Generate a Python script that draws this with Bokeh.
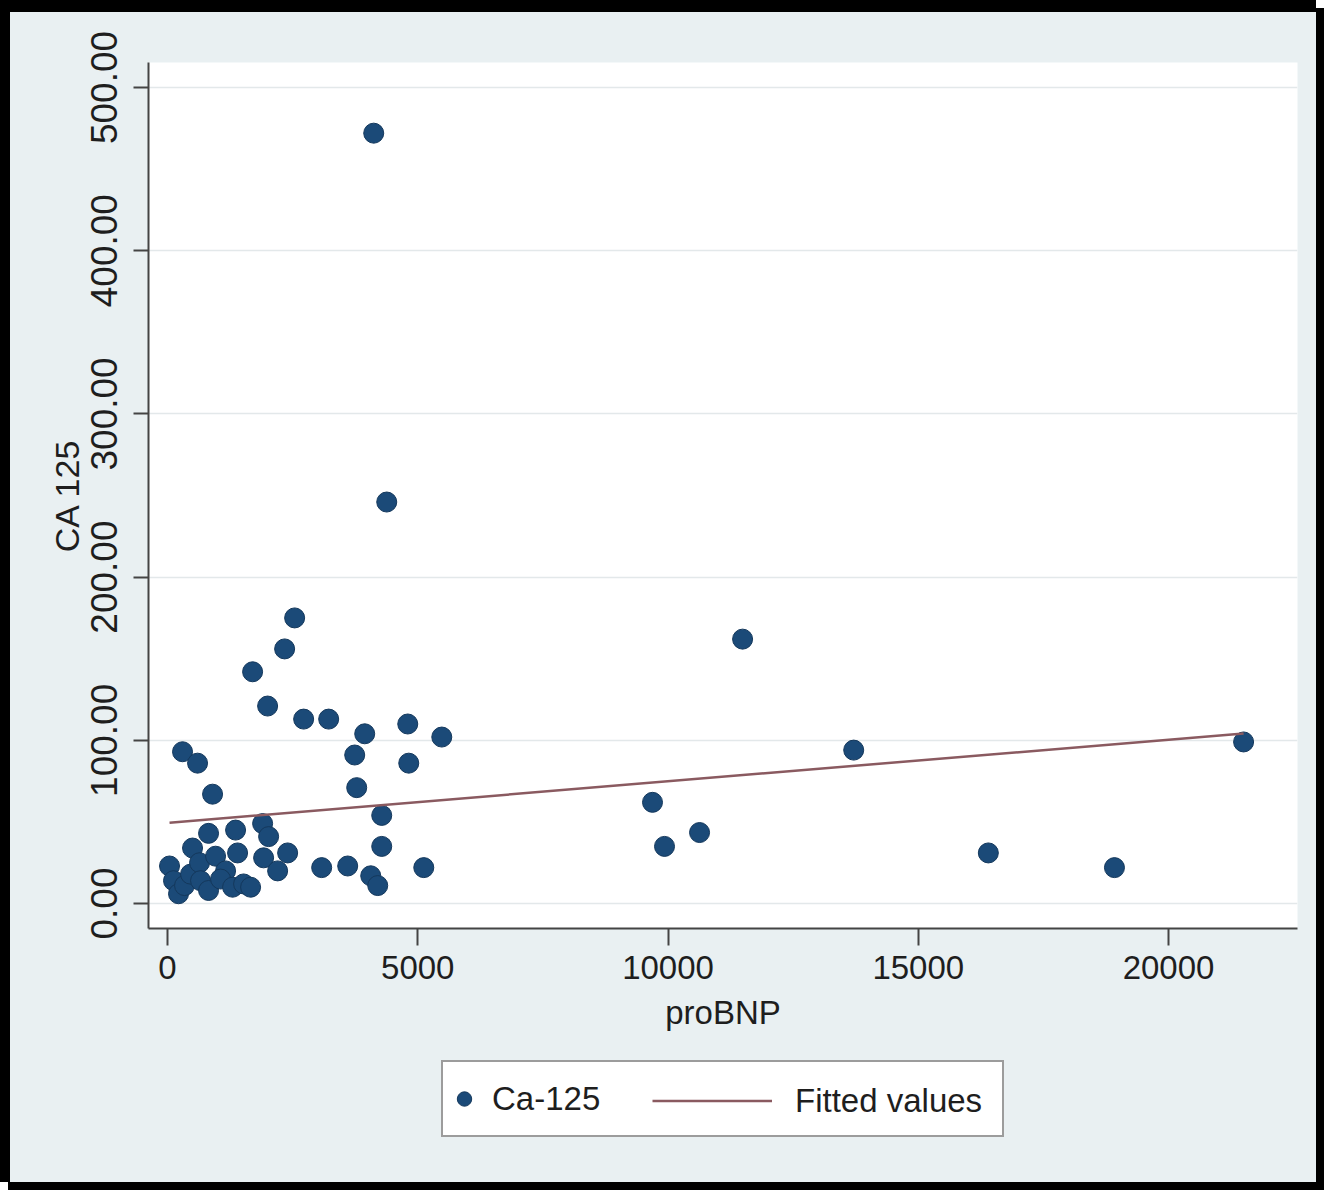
from bokeh.plotting import figure
from bokeh.layouts import column
from bokeh.models import Range1d, FixedTicker, NumeralTickFormatter, Legend, LegendItem
from bokeh.embed import file_html
from bokeh.resources import INLINE

# ---- data ----
probnp = [4120, 4380, 2540, 2340, 1700, 2000, 2720, 3220, 3940, 4800, 5480,
          3740, 4820, 3780, 4280, 4280, 3080, 3600, 4060, 4200, 5120,
          300, 600, 900,
          9690, 9930, 10630, 11490, 13710, 16400, 18920, 21500,
          40, 120, 220, 340, 460, 500, 640, 660, 820, 960, 820, 1160, 1060,
          1300, 1360, 1400, 1520, 1660, 1900, 2020, 1920, 2200, 2400]
ca125 = [472, 246, 175, 156, 142, 121, 113, 113, 104, 110, 102,
         91, 86, 71, 54, 35, 22, 23, 17, 11, 22,
         93, 86, 67,
         62, 35, 43.5, 162, 94, 31, 22, 99,
         23, 14, 6, 11, 18, 34, 25, 14, 43, 29, 8, 20, 15,
         10, 45, 31, 12, 10, 49, 41, 28, 20, 31]
fit_x = [40, 21500]
fit_y = [49.5, 104.2]
x_ticks = [0, 5000, 10000, 15000, 20000]
y_ticks = [0, 100, 200, 300, 400, 500]
legend_labels = ["Ca-125", "Fitted values"]

FONT = "Liberation Sans"
BG = "#e9f0f2"
TXT = "#1e1e1e"
PT_FILL = "#1b4a78"
PT_LINE = "#14385c"
FIT_COL = "#8a5a60"

W = 1316

# ---------------- main plot ----------------
p = figure(width=W, height=1037, output_backend="svg", toolbar_location=None,
           x_range=Range1d(-380, 22577), y_range=Range1d(-15.3, 515.3),
           min_border_left=138, min_border_right=29, min_border_top=50,
           min_border_bottom=121)
p.styles = {"border-left": "10px solid #000", "border-top": "12px solid #000"}
p.background_fill_color = "white"
p.border_fill_color = BG
p.outline_line_color = None

sc = p.scatter(probnp, ca125, size=20, fill_color=PT_FILL, line_color=PT_LINE,
               line_width=1)
ln = p.line(fit_x, fit_y, line_color=FIT_COL, line_width=2.5)

p.xgrid.grid_line_color = None
p.ygrid.grid_line_color = "#e3e8ea"
p.ygrid.grid_line_width = 1.5
p.ygrid.ticker = FixedTicker(ticks=y_ticks)

xa = p.xaxis[0]
xa.ticker = FixedTicker(ticks=x_ticks)
xa.formatter = NumeralTickFormatter(format="0")
xa.axis_label = "proBNP"
xa.axis_line_color = "#444444"
xa.axis_line_width = 2
xa.major_tick_in = 0
xa.major_tick_out = 17
xa.major_tick_line_color = "#444444"
xa.major_tick_line_width = 2
xa.minor_tick_line_color = None
xa.major_label_text_font = FONT
xa.major_label_text_font_size = "33px"
xa.major_label_text_color = TXT
xa.major_label_standoff = 10
xa.axis_label_text_font = FONT
xa.axis_label_text_font_size = "33px"
xa.axis_label_text_font_style = "normal"
xa.axis_label_text_color = TXT
xa.axis_label_standoff = 12

ya = p.yaxis[0]
ya.ticker = FixedTicker(ticks=y_ticks)
ya.formatter = NumeralTickFormatter(format="0.00")
ya.axis_label = "CA 125"
ya.axis_line_color = "#444444"
ya.axis_line_width = 2
ya.major_tick_in = 0
ya.major_tick_out = 15
ya.major_tick_line_color = "#444444"
ya.major_tick_line_width = 2
ya.minor_tick_line_color = None
ya.major_label_orientation = "vertical"
ya.major_label_text_font = FONT
ya.major_label_text_font_size = "37px"
ya.major_label_text_color = TXT
ya.major_label_standoff = 16
ya.axis_label_text_font = FONT
ya.axis_label_text_font_size = "34px"
ya.axis_label_text_font_style = "normal"
ya.axis_label_text_color = TXT
ya.axis_label_standoff = 3

# ---------------- legend strip ----------------
p2 = figure(width=W, height=145, output_backend="svg", toolbar_location=None,
            x_axis_type=None, y_axis_type=None, min_border=0,
            x_range=Range1d(0, 1), y_range=Range1d(0, 1))
p2.styles = {"border-left": "10px solid #000"}
p2.background_fill_color = None
p2.border_fill_color = BG
p2.outline_line_color = None
p2.grid.visible = False

# legend-only renderers (their single point lies outside the visible range)
d_sc = p2.scatter([-10], [-10], size=20, fill_color=PT_FILL, line_color=PT_LINE,
                  line_width=1)
d_ln = p2.line([-10, -9], [-10, -10], line_color=FIT_COL, line_width=2.5)

leg1 = Legend(items=[LegendItem(label=legend_labels[0], renderers=[d_sc])],
              location=(293, 45), orientation="horizontal",
              padding=3, margin=0, glyph_width=36, glyph_height=67,
              label_standoff=10, label_width=507,
              label_text_font=FONT, label_text_font_size="33px",
              label_text_color=TXT,
              border_line_color="#3a3a3a", border_line_width=2,
              background_fill_color="white", background_fill_alpha=1)
leg2 = Legend(items=[LegendItem(label=legend_labels[1], renderers=[d_ln])],
              location=(501, 45), orientation="horizontal",
              padding=3, margin=0, glyph_width=120, glyph_height=67,
              label_standoff=23,
              label_text_font=FONT, label_text_font_size="33px",
              label_text_color=TXT,
              border_line_alpha=0, background_fill_alpha=0)
p2.add_layout(leg1, "center")
p2.add_layout(leg2, "center")

layout = column(p, p2, spacing=0,
                styles={"background-color": BG, "box-shadow": "8px 8px 0 0 #000"})
open("out.html", "w").write(file_html(layout, INLINE))
